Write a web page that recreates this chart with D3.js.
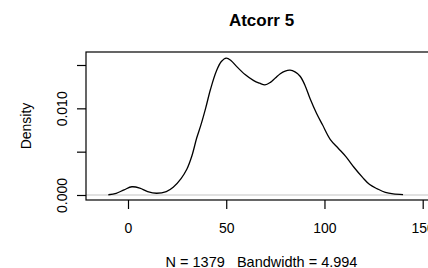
<!DOCTYPE html>
<html>
<head lang="en">
    <meta charset="UTF-8">
    <title>Atcorr 5</title>
    <script src="https://d3js.org/d3.v7.min.js"></script>
    <style>
        body { margin: 0; background: #fff; }
        text { font-family: "Liberation Sans", Arial, sans-serif; fill: #000; }
    </style>
</head>
<body>
<svg id="chart" width="428" height="268"></svg>
<script>
    // density estimate
    const X_VALUES = [-10, -6, -2, 2, 6, 10, 14.5, 19.5, 23, 27, 30, 32.5, 35, 37, 39.5, 42, 45, 47.5, 50,
        52.5, 55, 59.6, 64, 67, 69.7, 72.5, 75, 77.5, 80, 82.5, 85, 87.6, 90, 92.7, 96, 99, 103, 107,
        111, 115, 119.5, 123, 127, 131, 135, 140];
    const DENSITY = [0.00003, 0.0002, 0.0006, 0.00095, 0.0008, 0.0004, 0.0002, 0.0004, 0.0009, 0.0019,
        0.0030, 0.0045, 0.0066, 0.0080, 0.0100, 0.0122, 0.0143, 0.0154, 0.0158, 0.0155, 0.0149, 0.0139,
        0.0132, 0.0129, 0.0127, 0.0130, 0.0135, 0.0140, 0.0143, 0.0144, 0.0142, 0.0137, 0.0127, 0.0111,
        0.0094, 0.0081, 0.0064, 0.0054, 0.0044, 0.0032, 0.0020, 0.0012, 0.0007, 0.0003, 0.00012, 0.00005];
    const X_TICKS = [0, 50, 100, 150];
    const Y_TICKS = [0, 0.005, 0.010, 0.015];
    const Y_LABELS = ["0.000", "", "0.010", ""];
    const TITLE = "Atcorr 5";
    const SUBTITLE = "N = 1379   Bandwidth = 4.994";

    const svg = d3.select('#chart');
    const box = {left: 86, top: 52, right: 437, bottom: 200};

    let x = d3.scaleLinear().domain([0, 150]).range([128, 422.7]);
    let y = d3.scaleLinear().domain([0, 0.015]).range([195, 65]);

    // zero line
    svg.append('line')
        .attr('x1', box.left).attr('x2', box.right)
        .attr('y1', y(0)).attr('y2', y(0))
        .attr('stroke', '#c4c4c4').attr('stroke-width', 1.2);

    // curve
    let pts = X_VALUES.map((v, i) => [v, DENSITY[i]]);
    let line = d3.line().x(d => x(d[0])).y(d => y(d[1])).curve(d3.curveCatmullRom);
    svg.append('path')
        .datum(pts)
        .attr('fill', 'none')
        .attr('stroke', '#000')
        .attr('stroke-width', 1.3)
        .attr('d', line);

    // frame
    svg.append('rect')
        .attr('x', box.left).attr('y', box.top)
        .attr('width', box.right - box.left).attr('height', box.bottom - box.top)
        .attr('fill', 'none').attr('stroke', '#000').attr('stroke-width', 1.2);

    // x axis
    let gx = svg.append('g')
        .attr('transform', `translate(0,${box.bottom})`)
        .call(d3.axisBottom(x).tickValues(X_TICKS).tickSize(9).tickPadding(0).tickSizeOuter(0));
    gx.select('.domain').remove();
    gx.selectAll('.tick line').attr('stroke', '#000').attr('stroke-width', 1.2);
    gx.selectAll('.tick text').attr('y', 33).attr('dy', null)
        .style('font-size', '14px').attr('fill', '#000');

    // y axis
    let gy = svg.append('g')
        .attr('transform', `translate(${box.left},0)`)
        .call(d3.axisLeft(y).tickValues(Y_TICKS).tickSize(9).tickSizeOuter(0)
            .tickFormat((d, i) => Y_LABELS[i]));
    gy.select('.domain').remove();
    gy.selectAll('.tick line').attr('stroke', '#000').attr('stroke-width', 1.2);
    gy.selectAll('.tick text')
        .attr('x', null).attr('dy', null)
        .attr('text-anchor', 'middle')
        .attr('transform', 'translate(-19.5,0) rotate(-90)')
        .style('font-size', '14px').attr('fill', '#000');

    // titles
    svg.append('text')
        .attr('x', 261.5).attr('y', 26)
        .attr('text-anchor', 'middle')
        .style('font-size', '17px').style('font-weight', 'bold')
        .text(TITLE);

    svg.append('text')
        .attr('x', 261.5).attr('y', 266.5)
        .attr('text-anchor', 'middle')
        .style('font-size', '14.5px')
        .style('white-space', 'pre')
        .text(SUBTITLE);

    svg.append('text')
        .attr('transform', `translate(31,${(box.top + box.bottom) / 2}) rotate(-90)`)
        .attr('text-anchor', 'middle')
        .style('font-size', '14px')
        .text('Density');
</script>
</body>
</html>
